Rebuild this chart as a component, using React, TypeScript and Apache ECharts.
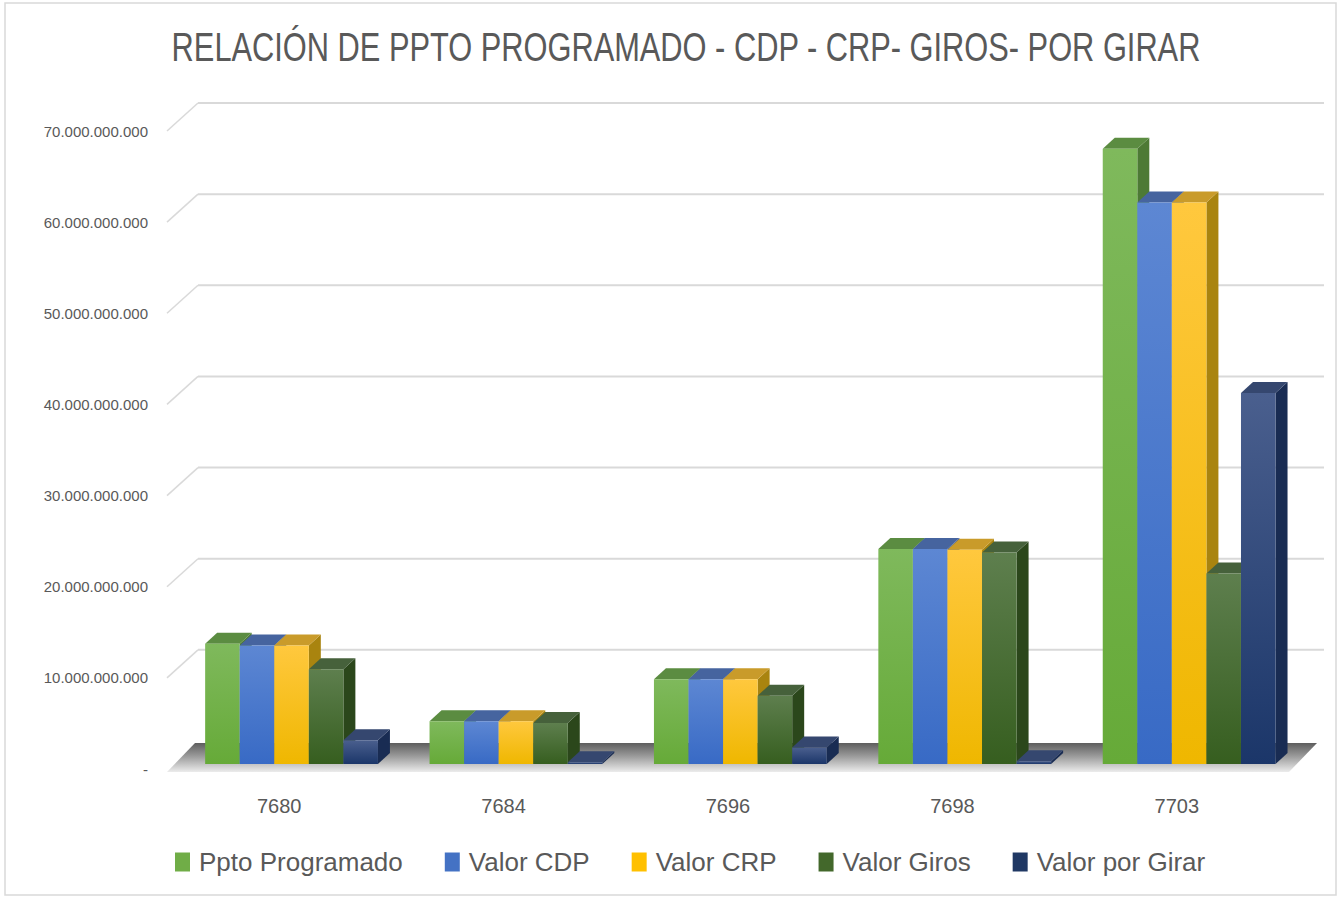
import React, { useEffect, useRef } from "react";
import * as echarts from "echarts";

const titleText = "RELACIÓN DE PPTO PROGRAMADO - CDP - CRP- GIROS- POR GIRAR";
const categories = ["7680", "7684", "7696", "7698", "7703"];
const seriesNames = ["Ppto Programado", "Valor CDP", "Valor CRP", "Valor Giros", "Valor por Girar"];
const pptoProgramado = [13.2e9, 4.7e9, 9.3e9, 23.6e9, 67.5e9];
const valorCDP = [13.0e9, 4.7e9, 9.3e9, 23.6e9, 61.6e9];
const valorCRP = [13.0e9, 4.7e9, 9.3e9, 23.5e9, 61.6e9];
const valorGiros = [10.4e9, 4.5e9, 7.5e9, 23.2e9, 20.9e9];
const valorPorGirar = [2.6e9, 0.2e9, 1.8e9, 0.3e9, 40.7e9];
const yTicks = [0, 10e9, 20e9, 30e9, 40e9, 50e9, 60e9, 70e9];

const seriesValues = [pptoProgramado, valorCDP, valorCRP, valorGiros, valorPorGirar];
const legendColors = ["#70AD47", "#4472C4", "#FFC000", "#43682B", "#203864"];
const faceColors = [
  { top: "#7fb95c", bottom: "#66aa38", cap: "#5b8c41", side: "#4d7a35" },
  { top: "#5d87d3", bottom: "#386ac5", cap: "#46649f", side: "#34599a" },
  { top: "#ffc83e", bottom: "#efb700", cap: "#c99b2a", side: "#a9840f" },
  { top: "#5e7f4e", bottom: "#365e1f", cap: "#46613b", side: "#2b471b" },
  { top: "#4a5f8e", bottom: "#1b3669", cap: "#35476f", side: "#192c53" },
];

const DX = 12;
const DY = 11;
const BACK_DX = 31;
const BACK_DY = 28;

function fmt(v: number): string {
  if (v === 0) return "-";
  return Math.round(v).toString().replace(/\B(?=(\d{3})+(?!\d))/g, ".");
}

export default function App() {
  const ref = useRef<HTMLDivElement>(null);
  useEffect(() => {
    if (!ref.current) return;
    const chart = echarts.init(ref.current, undefined, { renderer: "svg" });

    const barSeries = seriesValues.map((vals, s) => ({
      name: seriesNames[s],
      type: "custom",
      z: 5,
      data: vals.map((v, i) => [i, v]),
      itemStyle: { color: legendColors[s] },
      renderItem: (params: any, api: any) => {
        const idx = api.value(0);
        const v = api.value(1);
        const base = api.coord([idx, 0]);
        const top = api.coord([idx, v]);
        const catW = api.size([1, 0])[0];
        const barW = catW * 0.154;
        const x0 = base[0] - catW * 0.33 + s * barW;
        const yb = base[1] - 5;
        const yt = top[1] - 5;
        const c = faceColors[s];
        return {
          type: "group",
          children: [
            {
              type: "polygon",
              shape: {
                points: [
                  [x0 + barW, yt],
                  [x0 + barW + DX, yt - DY],
                  [x0 + barW + DX, yb - DY],
                  [x0 + barW, yb],
                ],
              },
              style: { fill: c.side },
            },
            {
              type: "polygon",
              shape: {
                points: [
                  [x0, yt],
                  [x0 + DX, yt - DY],
                  [x0 + barW + DX, yt - DY],
                  [x0 + barW, yt],
                ],
              },
              style: { fill: c.cap },
            },
            {
              type: "rect",
              shape: { x: x0, y: yt, width: barW, height: yb - yt },
              style: {
                fill: new echarts.graphic.LinearGradient(0, 0, 0, 1, [
                  { offset: 0, color: c.top },
                  { offset: 1, color: c.bottom },
                ]),
              },
            },
          ],
        };
      },
    }));

    const gridSeries = {
      type: "custom",
      z: 1,
      silent: true,
      data: yTicks.slice(1).map((t) => [0, t]),
      renderItem: (params: any, api: any) => {
        const p = api.coord([0, api.value(1)]);
        const catW = api.size([1, 0])[0];
        const left = p[0] - catW / 2;
        const right = left + catW * categories.length;
        return {
          type: "group",
          children: [
            {
              type: "line",
              shape: { x1: left, y1: p[1], x2: left + BACK_DX, y2: p[1] - BACK_DY },
              style: { stroke: "#d9d9d9", lineWidth: 1.5 },
            },
            {
              type: "line",
              shape: { x1: left + BACK_DX, y1: p[1] - BACK_DY, x2: right + BACK_DX + 4, y2: p[1] - BACK_DY },
              style: { stroke: "#d9d9d9", lineWidth: 2 },
            },
          ],
        };
      },
    };

    const floorSeries = {
      type: "custom",
      z: 2,
      silent: true,
      data: [[0, 0]],
      renderItem: (params: any, api: any) => {
        const p = api.coord([0, 0]);
        const catW = api.size([1, 0])[0];
        const left = p[0] - catW / 2;
        const right = left + catW * categories.length;
        const yf = p[1] + 3;
        const yk = p[1] - 26;
        return {
          type: "polygon",
          shape: {
            points: [
              [left, yf],
              [right, yf],
              [right + BACK_DX - 3, yk],
              [left + BACK_DX - 3, yk],
            ],
          },
          style: {
            fill: new echarts.graphic.LinearGradient(0, 0, 0, 1, [
              { offset: 0, color: "#5e5e5e" },
              { offset: 0.45, color: "#9a9a9a" },
              { offset: 1, color: "#ececec" },
            ]),
          },
        };
      },
    };

    chart.setOption({
      animation: false,
      backgroundColor: "#ffffff",
      legend: {
        bottom: 18,
        left: 170,
        itemWidth: 15,
        itemHeight: 19,
        itemGap: 42,
        icon: "rect",
        data: seriesNames.map((n, i) => ({ name: n, itemStyle: { color: legendColors[i] } })),
        textStyle: {
          fontFamily: "'Liberation Sans', sans-serif",
          fontSize: 26,
          color: "#595959",
          padding: [0, 0, 0, 4],
        },
      },
      grid: { left: 167, right: 53, top: 131, bottom: 129, containLabel: false },
      xAxis: {
        type: "category",
        data: categories,
        axisLine: { show: false },
        axisTick: { show: false },
        axisLabel: {
          margin: 27,
          fontFamily: "'Liberation Sans', sans-serif",
          fontSize: 20,
          color: "#595959",
        },
      },
      yAxis: {
        type: "value",
        min: 0,
        max: 70e9,
        interval: 10e9,
        axisLine: { show: false },
        axisTick: { show: false },
        splitLine: { show: false },
        axisLabel: {
          margin: 19,
          formatter: (v: number) => fmt(v),
          fontFamily: "'Liberation Sans', sans-serif",
          fontSize: 15,
          color: "#595959",
        },
      },
      graphic: [
        {
          type: "rect",
          shape: { x: 5, y: 3, width: 1331, height: 892 },
          style: { fill: "none", stroke: "#d9d9d9", lineWidth: 1.5 },
          z: -1,
        },
        {
          type: "text",
          x: 686,
          y: 48,
          scaleX: 0.77,
          style: {
            text: titleText,
            fontFamily: "'Liberation Sans', sans-serif",
            fontSize: 40,
            fill: "#595959",
            align: "center",
            verticalAlign: "middle",
          },
        },
      ],
      series: [gridSeries, floorSeries, ...barSeries],
    });
    return () => chart.dispose();
  }, []);
  return (
    <div
      ref={ref}
      style={{ position: "absolute", left: 0, top: 0, width: 1342, height: 898 }}
    />
  );
}
